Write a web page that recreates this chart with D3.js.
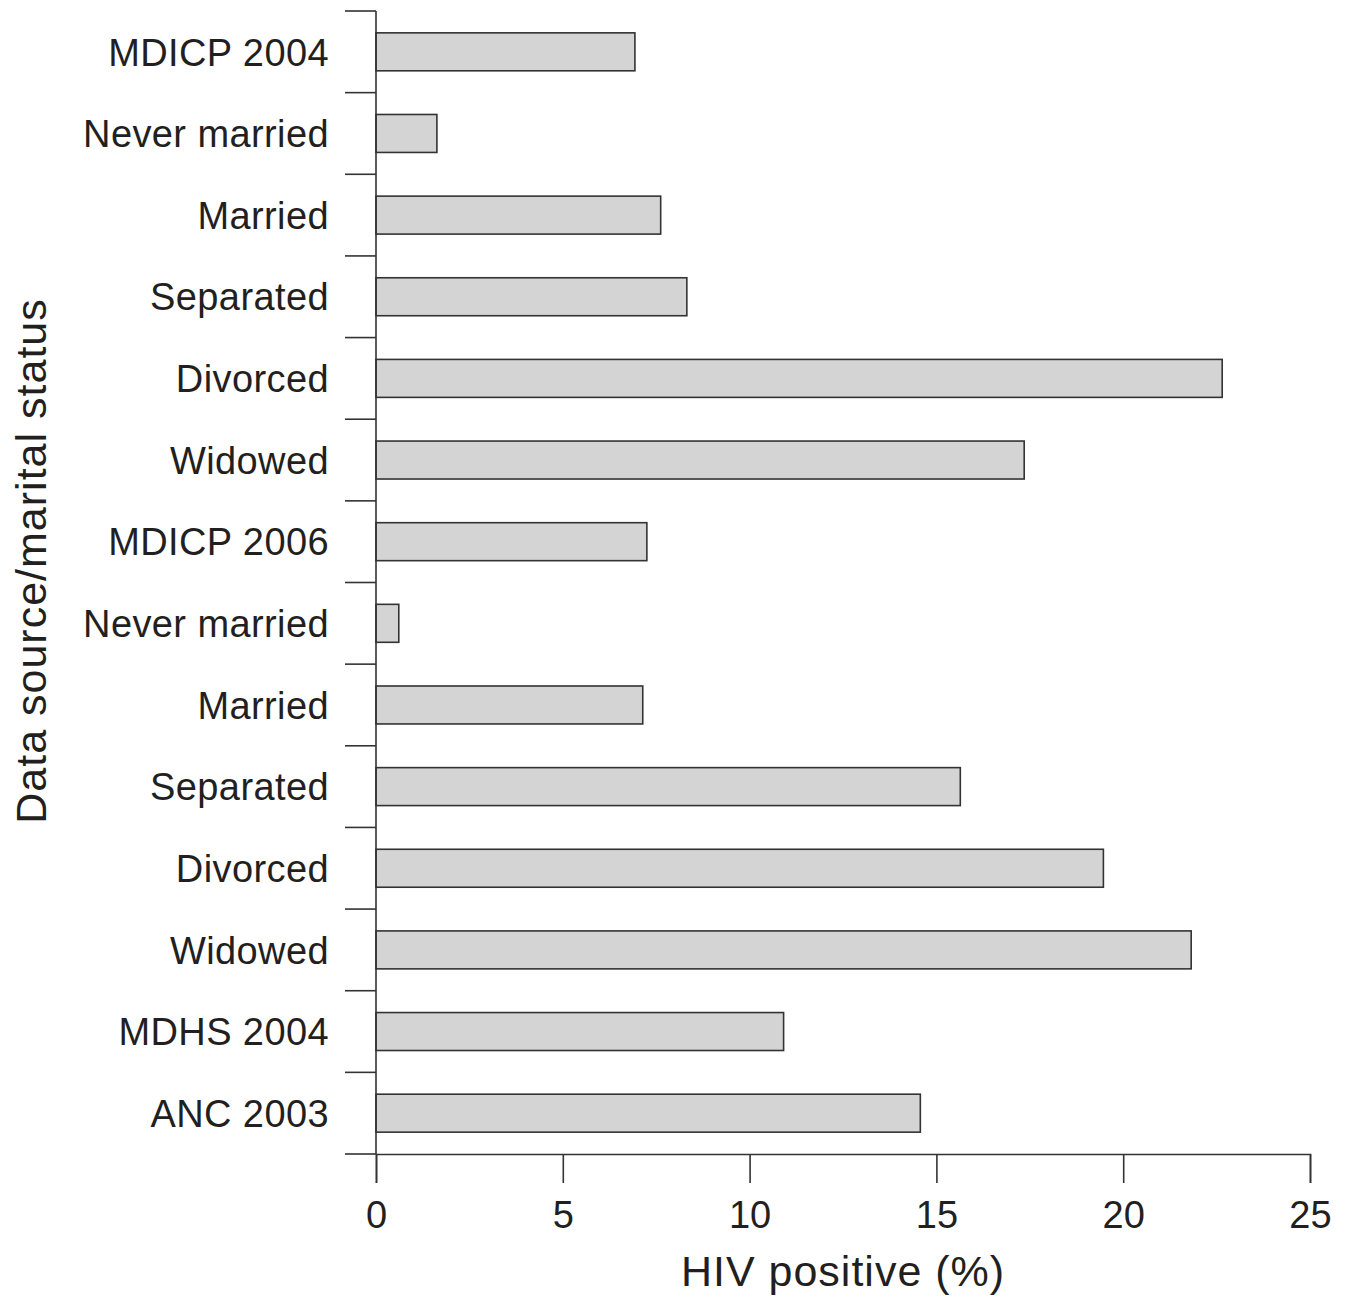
<!DOCTYPE html>
<html>
<head>
<meta charset="utf-8">
<script src="https://cdn.jsdelivr.net/npm/d3@7"></script>
<style>
  body { margin: 0; background: #fff; }
  text { font-family: "Liberation Sans", Arial, sans-serif; fill: #231f20; }
</style>
</head>
<body>
<div id="viz"></div>
<script>
// Data
const categories = [
    "MDICP 2004", "Never married", "Married", "Separated", "Divorced", "Widowed",
    "MDICP 2006", "Never married", "Married", "Separated", "Divorced", "Widowed",
    "MDHS 2004", "ANC 2003"
];
const hivPositive = [6.93, 1.63, 7.62, 8.32, 22.65, 17.35, 7.25, 0.61, 7.14, 15.64, 19.47, 21.82, 10.91, 14.57];
const xTicks = [0, 5, 10, 15, 20, 25];

const dims = { width: 1352, height: 1296, top: 11, left: 376, right: 42, bottom: 142 };
const innerW = dims.width - dims.left - dims.right;
const innerH = dims.height - dims.top - dims.bottom;

const svg = d3.select("#viz")
    .append("svg")
    .attr("width", dims.width)
    .attr("height", dims.height);

const g = svg.append("g")
    .attr("transform", `translate(${dims.left},${dims.top})`);

const rows = categories.map((c, i) => ({ key: i, label: c, val: hivPositive[i] }));

const xScale = d3.scaleLinear().domain([0, 25]).range([0, innerW]);
const yScale = d3.scaleBand()
    .domain(rows.map(d => d.key))
    .range([0, innerH])
    .paddingInner(0.535)
    .paddingOuter(0.2675);

// bars
g.selectAll(".bar")
    .data(rows)
    .join("rect")
    .attr("class", "bar")
    .attr("x", xScale(0))
    .attr("y", d => yScale(d.key))
    .attr("width", d => xScale(d.val) - xScale(0))
    .attr("height", yScale.bandwidth())
    .style("fill", "#d4d4d4")
    .style("stroke", "#333")
    .style("stroke-width", 1.6);

// band boundary ticks on y axis
const step = innerH / categories.length;
const bounds = d3.range(categories.length + 1).map(i => i * step);
g.append("g")
    .selectAll("line")
    .data(bounds)
    .join("line")
    .attr("x1", -31).attr("x2", 0)
    .attr("y1", d => d).attr("y2", d => d)
    .style("stroke", "#333").style("stroke-width", 1.6);

g.append("line")
    .attr("x1", 0).attr("x2", 0)
    .attr("y1", 0).attr("y2", innerH)
    .style("stroke", "#333").style("stroke-width", 1.6);

// y labels
g.append("g")
    .selectAll("text")
    .data(rows)
    .join("text")
    .attr("x", -47)
    .attr("y", d => yScale(d.key) + yScale.bandwidth() / 2)
    .attr("dy", "0.36em")
    .style("text-anchor", "end")
    .style("font-size", "38px")
    .style("letter-spacing", "0.4px")
    .text(d => d.label);

// x axis
const xAxis = g.append("g")
    .attr("transform", `translate(0,${innerH})`)
    .call(d3.axisBottom(xScale).tickValues(xTicks).tickSize(29).tickPadding(18).tickFormat(d3.format("d")));
xAxis.select(".domain").style("stroke", "#333").style("stroke-width", 1.6);
xAxis.selectAll(".tick line").style("stroke", "#333").style("stroke-width", 1.6);
xAxis.selectAll(".tick text")
    .style("font-size", "38px")
    .style("font-family", "'Liberation Sans', Arial, sans-serif")
    .style("fill", "#231f20");

// axis titles
svg.append("text")
    .attr("x", dims.left + innerW / 2)
    .attr("y", 1286)
    .style("text-anchor", "middle")
    .style("font-size", "43px")
    .style("letter-spacing", "1px")
    .text("HIV positive (%)");

svg.append("text")
    .attr("transform", `translate(46,561) rotate(-90)`)
    .style("text-anchor", "middle")
    .style("font-size", "43px")
    .style("letter-spacing", "1px")
    .text("Data source/marital status");
</script>
</body>
</html>
